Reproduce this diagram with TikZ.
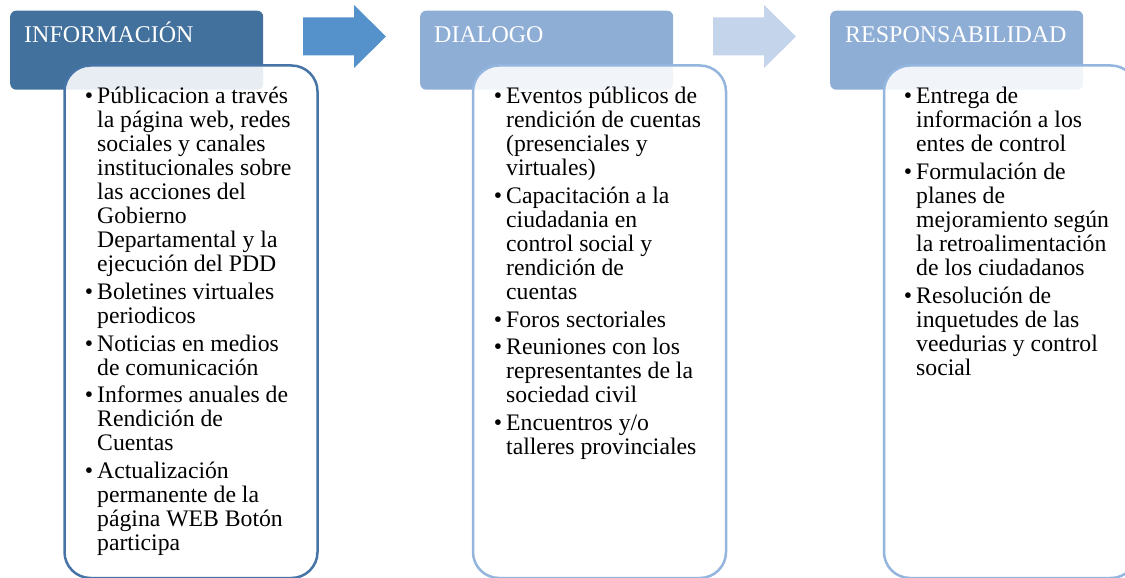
\documentclass[tikz,border=0pt]{standalone}
\usepackage{fontspec}
\setmainfont{Liberation Serif}
\definecolor{hdrA}{RGB}{65,113,156}
\definecolor{hdrB}{RGB}{143,174,214}
\definecolor{arrA}{RGB}{85,146,204}
\definecolor{arrB}{RGB}{195,212,235}
\definecolor{edgeA}{RGB}{70,116,166}
\definecolor{edgeB}{RGB}{148,181,222}
\newcommand{\itemfont}{\fontsize{23.7}{24}\selectfont\lineskiplimit=-50pt\relax}
\newcommand{\fl}{\rule{0pt}{20pt}}
\begin{document}
\begin{tikzpicture}[x=1pt,y=-1pt,
  hdr/.style={draw=none, rounded corners=6pt, minimum width=253pt, minimum height=79pt, anchor=north west, inner sep=0pt},
  body/.style={rounded corners=26pt, line width=2.5pt, fill=white, fill opacity=0.88, minimum width=253pt, minimum height=512.5pt, anchor=north west, inner sep=0pt},
  htext/.style={anchor=base west, text=white, font=\fontsize{24}{28}\selectfont, inner sep=0pt},
  itm/.style={anchor=north west, inner sep=0pt, align=left, font=\itemfont},
  bul/.style={anchor=base, inner sep=0pt, font=\itemfont},
  ]
\useasboundingbox (0,0) rectangle (1125,578);
\clip (0,0) rectangle (1125,578);

% ---------- column 1 ----------
\node[hdr, fill=hdrA] (h1) at (10,10.5) {};
\node[body, draw=edgeA] (c1) at (63.25,64.25) {};
\node[htext] (t1) at (24,43) {INFORMACIÓN};
\node[bul] (b11) at (89,103.5) {•};
\node[itm] (i11) at (97,83.5) {\fl Públicacion a través\\la página web, redes\\sociales y canales\\institucionales sobre\\las acciones del\\Gobierno\\Departamental y la\\ejecución del PDD};
\node[bul] (b12) at (89,299.25) {•};
\node[itm] (i12) at (97,279.25) {\fl Boletines virtuales\\periodicos};
\node[bul] (b13) at (89,351) {•};
\node[itm] (i13) at (97,331) {\fl Noticias en medios\\de comunicación};
\node[bul] (b14) at (89,402.75) {•};
\node[itm] (i14) at (97,382.75) {\fl Informes anuales de\\Rendición de\\Cuentas};
\node[bul] (b15) at (89,478.5) {•};
\node[itm] (i15) at (97,458.5) {\fl Actualización\\permanente de la\\página WEB Botón\\participa};

% ---------- arrow 1 ----------
\fill[arrA] (303,17.5) -- (354,17.5) -- (354,5) -- (386,36.5) -- (354,68) -- (354,55.5) -- (303,55.5) -- cycle;

% ---------- column 2 ----------
\node[hdr, fill=hdrB] (h2) at (420,10.5) {};
\node[body, draw=edgeB] (c2) at (471.75,64.25) {};
\node[htext] (t2) at (434,43) {DIALOGO};
\node[bul] (b21) at (498,103.5) {•};
\node[itm] (i21) at (506,83.5) {\fl Eventos públicos de\\rendición de cuentas\\(presenciales y\\virtuales)};
\node[bul] (b22) at (498,203.25) {•};
\node[itm] (i22) at (506,183.25) {\fl Capacitación a la\\ciudadania en\\control social y\\rendición de\\cuentas};
\node[bul] (b23) at (498,327) {•};
\node[itm] (i23) at (506,307) {\fl Foros sectoriales};
\node[bul] (b24) at (498,354.75) {•};
\node[itm] (i24) at (506,334.75) {\fl Reuniones con los\\representantes de la\\sociedad civil};
\node[bul] (b25) at (498,430.5) {•};
\node[itm] (i25) at (506,410.5) {\fl Encuentros y/o\\talleres provinciales};

% ---------- arrow 2 ----------
\fill[arrB] (713,17.5) -- (764,17.5) -- (764,5) -- (796,36.5) -- (764,68) -- (764,55.5) -- (713,55.5) -- cycle;

% ---------- column 3 ----------
\node[hdr, fill=hdrB] (h3) at (830,10.5) {};
\node[body, draw=edgeB] (c3) at (882.75,64.25) {};
\node[htext] (t3) at (845,43) {RESPONSABILIDAD};
\node[bul] (b31) at (908,103.5) {•};
\node[itm] (i31) at (916,83.5) {\fl Entrega de\\información a los\\entes de control};
\node[bul] (b32) at (908,179.25) {•};
\node[itm] (i32) at (916,159.25) {\fl Formulación de\\planes de\\mejoramiento según\\la retroalimentación\\de los ciudadanos};
\node[bul] (b33) at (908,303) {•};
\node[itm] (i33) at (916,283) {\fl Resolución de\\inquetudes de las\\veedurias y control\\social};
\end{tikzpicture}
\end{document}
